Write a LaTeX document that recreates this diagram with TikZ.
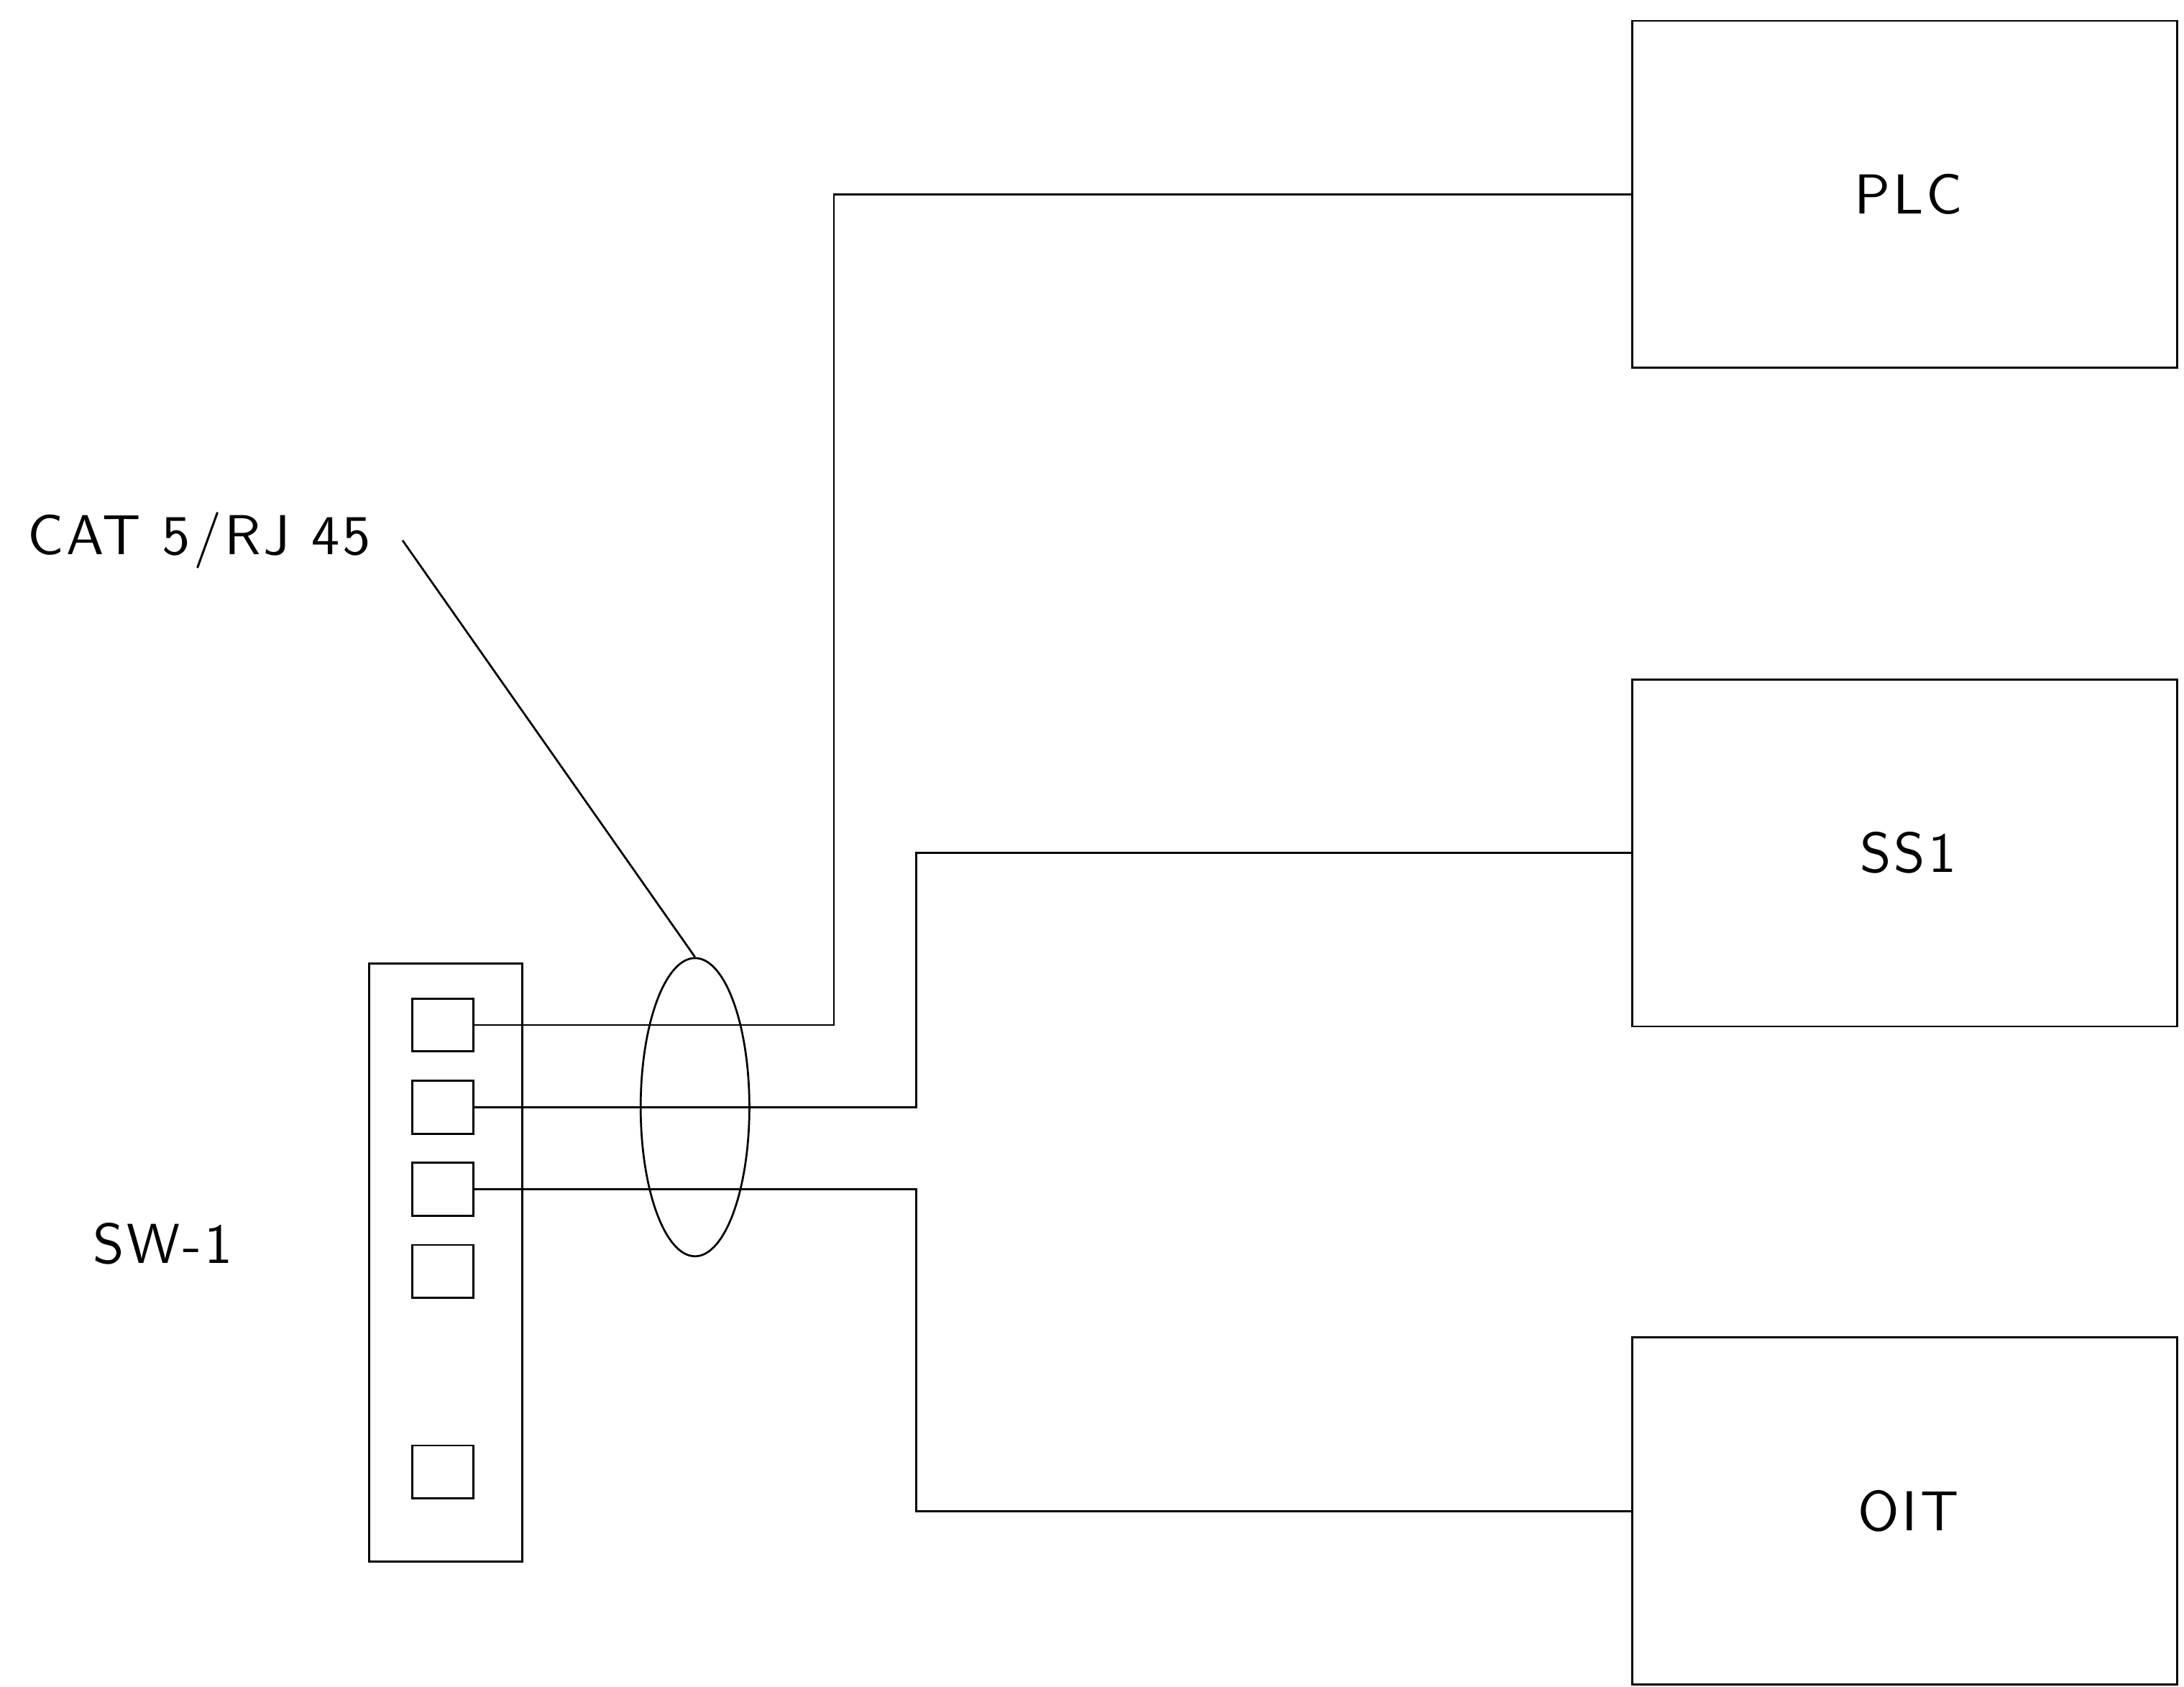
\documentclass[tikz,border=0pt]{standalone}
\usepackage{fontspec}
\setsansfont[LetterSpace=5]{lmsans10-regular.otf}
\usepackage{tikz}
\usetikzlibrary{shapes.geometric}

\begin{document}
\begin{tikzpicture}[x=0.01cm, y=-0.01cm, line width=0.4pt,
    every node/.style={font=\sffamily\fontsize{11.5}{14}\selectfont},
    devbox/.style={draw, minimum width=3.91cm, minimum height=2.49cm, inner sep=0pt},
    portbox/.style={draw, minimum width=0.44cm, minimum height=0.38cm, inner sep=0pt}]
    \useasboundingbox (0,0) rectangle (1568,1211);
    \node[draw, minimum width=1.10cm, minimum height=4.29cm, inner sep=0pt] (sw) at (320,906.5) {};
    \foreach \n/\yy in {1/736,2/795,3/854,4/913,5/1057} {
        \node[portbox] (p\n) at (318,\yy) {};
    }
    \node[devbox] (plc) at (1367.5,139.5) {\hspace{0.05cm}PLC};
    \node[devbox] (ss1) at (1367.5,612.5) {\hspace{0.05cm}SS1};
    \node[devbox] (oit) at (1367.5,1085) {\hspace{0.05cm}OIT};
    \node (swlab) at (117,893) {SW-1};
    \node[draw, ellipse, minimum width=0.78cm, minimum height=2.14cm, inner sep=0pt] (bundle) at (499,795) {};
    \node[anchor=east, inner xsep=0.22cm] (cat) at (289,388) {CAT 5/RJ 45};

    \draw (p1.east) -- ++(258,0) |- (plc.west);
    \draw (p2.east) -- ++(317,0) |- (ss1.west);
    \draw (p3.east) -- ++(317,0) |- (oit.west);
    \draw (bundle.north) -- (cat.east);
\end{tikzpicture}
\end{document}
